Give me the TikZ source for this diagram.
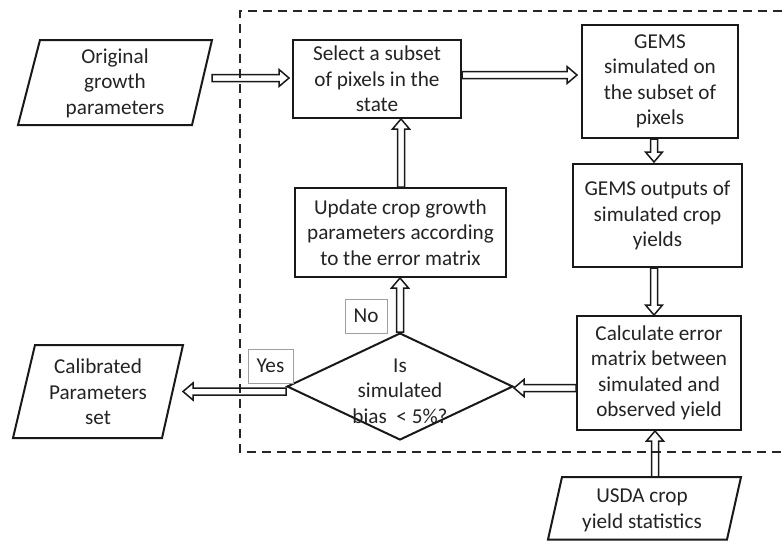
\documentclass[tikz,border=0pt]{standalone}
\usepackage{fontspec}
\setmainfont{Carlito}
\usetikzlibrary{shapes.geometric,calc}
\definecolor{txtc}{RGB}{35,35,35}
\newcommand\fs{\fontsize{21.2}{25.5}\selectfont}
% hollow block arrows (horizontal / vertical)
\newcommand\harr[2]{\draw[arrline] let \p1=#1, \p2=#2, \n1={sign(\x2-\x1)} in
 (\x1,{\y1+3.5pt}) -- ({\x2-(\n1)*10pt},{\y1+3.5pt}) -- ({\x2-(\n1)*10pt},{\y1+8.5pt})
 -- (\x2,\y1) -- ({\x2-(\n1)*10pt},{\y1-8.5pt}) -- ({\x2-(\n1)*10pt},{\y1-3.5pt})
 -- (\x1,{\y1-3.5pt}) -- cycle;}
\newcommand\varr[2]{\draw[arrline] let \p1=#1, \p2=#2, \n1={sign(\y2-\y1)} in
 ({\x1+3.5pt},\y1) -- ({\x1+3.5pt},{\y2-(\n1)*10pt}) -- ({\x1+8.5pt},{\y2-(\n1)*10pt})
 -- (\x1,\y2) -- ({\x1-8.5pt},{\y2-(\n1)*10pt}) -- ({\x1-3.5pt},{\y2-(\n1)*10pt})
 -- ({\x1-3.5pt},\y1) -- cycle;}
\tikzset{
  box/.style={draw=black!90, line width=2pt, rectangle, align=center, text=txtc, inner sep=0pt, font=\fs},
  txt/.style={align=center, text=txtc, font=\fs, inner sep=0pt},
  para/.style={draw=black!90, line width=2pt, line join=miter},
  lab/.style={draw=gray!75, line width=0.8pt, text=txtc, font=\fs, inner sep=0pt, align=center},
  arrline/.style={draw=black!90, line width=1.5pt, line join=miter},
  frame/.style={draw=black!85, line width=1.8pt, dash pattern=on 9pt off 6pt}
}
\begin{document}
\begin{tikzpicture}[x=1pt,y=-1pt]
\useasboundingbox (0,0) rectangle (782,541);
% dashed frame
\draw[frame] (782,11) -- (240,11) -- (240,452) -- (782,452);
% boxes
\node[box, minimum width=168pt, minimum height=78pt] (sel) at (377,79) {Select a subset\\of pixels in the\\state};
\node[box, minimum width=156pt, minimum height=113pt] (gems) at (660,81.5) {GEMS\\simulated on\\the subset of\\pixels};
\node[box, minimum width=169pt, minimum height=103pt] (out) at (657.5,215.5) {GEMS outputs of\\simulated crop\\yields};
\node[box, minimum width=164pt, minimum height=114pt] (calc) at (659,373) {Calculate error\\matrix between\\simulated and\\observed yield};
\node[box, minimum width=211pt, minimum height=89pt] (upd) at (400.5,232.5) {Update crop growth\\parameters according\\to the error matrix};
% decision
\node[diamond, draw=black!90, line width=2pt, minimum width=226pt, minimum height=107pt, inner sep=0pt] (dia) at (400,386.5) {};
\node[txt] (diatxt) at (400,391) {Is\\simulated\\bias~~< 5\%?};
% labels
\node[lab, minimum width=42pt, minimum height=34pt] (no) at (366,316) {No};
\node[lab, minimum width=45pt, minimum height=34pt] (yes) at (270.5,366) {Yes};
% parallelograms
\draw[para] (40,40) -- (212,40) -- (192,125) -- (18,125) -- cycle;
\node[txt] (orig) at (115,83) {Original\\growth\\parameters};
\draw[para] (35,345) -- (183,345) -- (162,438) -- (13,438) -- cycle;
\node[txt] (calib) at (98,392) {Calibrated\\Parameters\\set};
\draw[para] (562,477) -- (741,477) -- (727,539.5) -- (548,539.5) -- cycle;
\node[txt] (usda) at (642,510.5) {USDA crop\\yield statistics};
% connector end points
\coordinate (origR) at (212,78);
\coordinate (selR) at ($(sel.east)+(0,-4)$);
\coordinate (gemsB) at ($(gems.south)+(-6,0)$);
\coordinate (outB) at ($(out.south)+(-3.5,0)$);
\coordinate (calibR) at (183,392);
\coordinate (usdaT) at (655,477);
\coordinate (diaW) at ($(dia.west)+(0,5)$);
\coordinate (updT) at ($(upd.north)+(0.5,0)$);
% arrows
\harr{(origR)}{($(origR -| sel.west)+(-3,0)$)}
\harr{(selR)}{($(selR -| gems.west)+(-4,0)$)}
\varr{(gemsB)}{($(gemsB |- out.north)+(0,-1)$)}
\varr{(outB)}{(outB |- calc.north)}
\varr{(usdaT)}{(usdaT |- calc.south)}
\harr{($(calc.west |- dia.east)+(0,1.5)$)}{($(dia.east)+(0,1.5)$)}
\varr{(dia.north)}{(dia.north |- upd.south)}
\varr{(updT)}{(updT |- sel.south)}
\harr{(diaW)}{(calibR)}
\end{tikzpicture}
\end{document}
